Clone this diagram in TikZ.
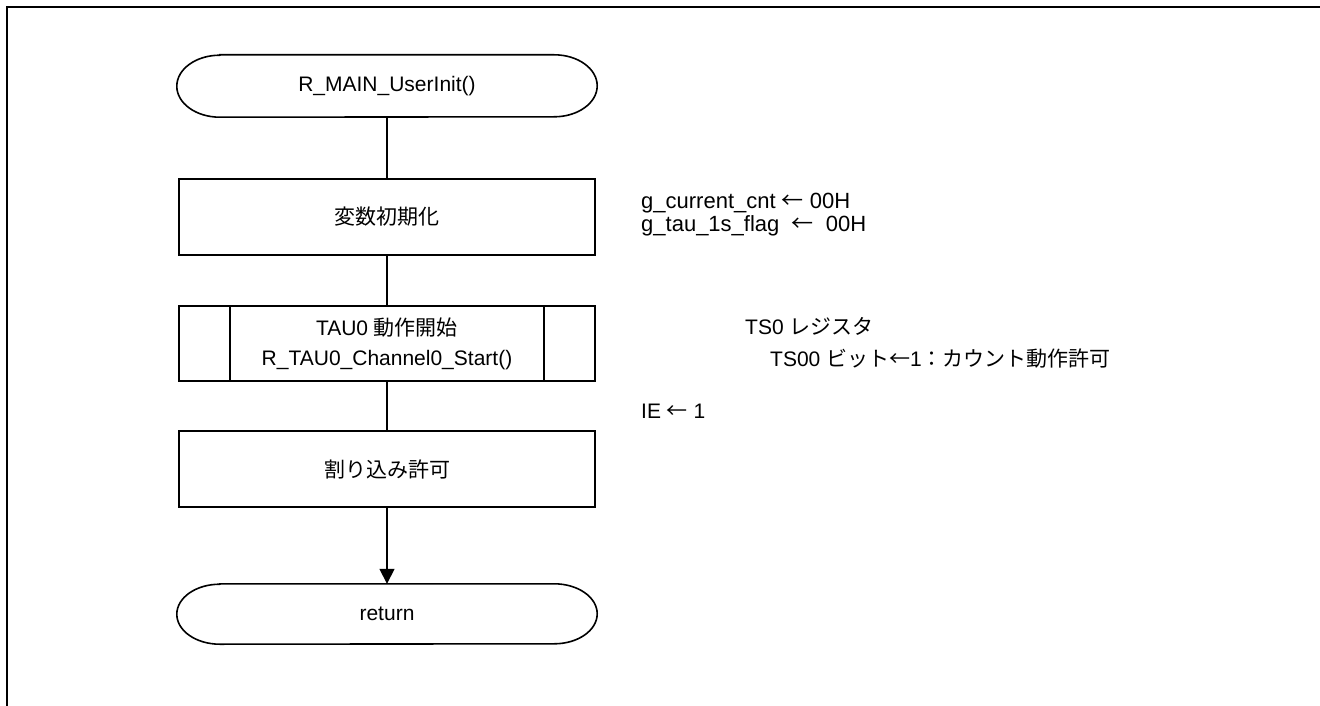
\documentclass[tikz,border=0pt]{standalone}
\usepackage{fontspec}
\setmainfont{Liberation Sans}
\newfontfamily\jp{Noto Sans CJK JP}
\usetikzlibrary{arrows.meta}

% Outline of a terminal symbol: straight top and bottom, elliptical ends
\newcommand\drawterminal[2]{%
  \draw[flow] ([xshift=43pt]#1.north west) -- ([xshift=-43pt]#1.north east)
    arc[start angle=90,end angle=-90,x radius=43pt,y radius=#2]
    -- ([xshift=43pt]#1.south west)
    arc[start angle=270,end angle=90,x radius=43pt,y radius=#2] -- cycle;}

\begin{document}
\begin{tikzpicture}[x=1pt,y=1pt,
  flow/.style={line width=1.6pt},
  frameline/.style={line width=2.6pt},
  txt/.style={font=\fontsize{21}{30}\selectfont},
  procbox/.style={draw, line width=1.6pt, minimum width=416pt,
    minimum height=76pt, inner sep=0pt, txt, align=center},
  termbox/.style={minimum width=420pt, inner sep=0pt, txt},
  note/.style={anchor=west, align=left, inner sep=0pt,
    font=\fontsize{21}{32}\selectfont},
  arrowflow/.style={flow, -{Triangle[length=15pt,width=15pt]}}
]
\useasboundingbox (0,0) rectangle (1320,-706);

% page frame
\draw[frameline] (7,-706) -- (7,-7) -- (1320,-7);

% flow chart
\node[termbox, minimum height=62pt] (start) at (387,-86) {R\_MAIN\_UserInit()};
\drawterminal{start}{31pt}

\node[procbox] (init) at (387,-217) {\jp 変数初期化};

\node[procbox, minimum height=75pt] (tau) at (387,-343.5)
  {TAU0 {\jp 動作開始}\\R\_TAU0\_Channel0\_Start()};
\draw[flow] ([xshift=52pt]tau.north west) -- ([xshift=52pt]tau.south west);
\draw[flow] ([xshift=-52pt]tau.north east) -- ([xshift=-52pt]tau.south east);

\node[procbox] (ei) at (387,-469) {\jp 割り込み許可};

\node[termbox, minimum height=60pt] (ret) at (387,-614) {return};
\drawterminal{ret}{30pt}

\draw[flow] (start.south) -- (init.north);
\draw[flow] (init.south) -- (tau.north);
\draw[flow] (tau.south) -- (ei.north);
\draw[arrowflow] (ei.south) -- (ret.north);

% annotations
\node[note, font=\fontsize{22}{23}\selectfont] (vars) at (641,-214.5)
  {g\_current\_cnt {\jp ←} 00H\\g\_tau\_1s\_flag\ \ {\jp ←}\ \ 00H};
\node[note] (ts) at (745,-342.5)
  {TS0 {\jp レジスタ}\\\hspace*{25pt}TS00 {\jp ビット←}1{\jp ：カウント動作許可}};
\node[note] (ie) at (641,-411) {IE {\jp ←} 1};
\end{tikzpicture}
\end{document}
